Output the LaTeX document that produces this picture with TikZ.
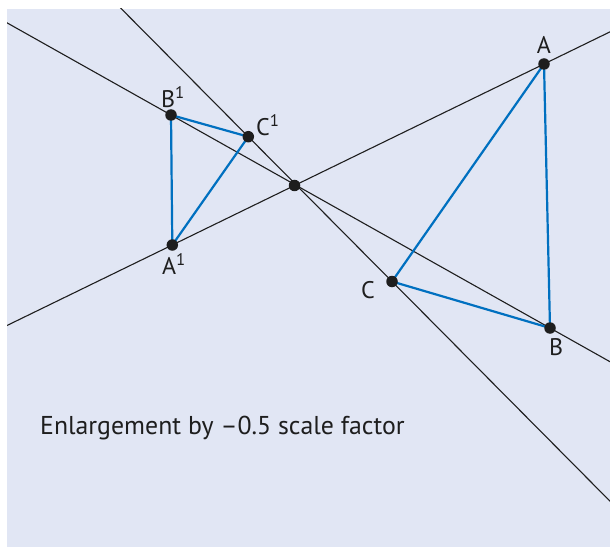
\documentclass[tikz,border=0pt]{standalone}
\usepackage{fontspec}
\setmainfont{PT Sans}
\usetikzlibrary{calc}
\definecolor{bgcol}{RGB}{225,230,244}
\definecolor{triblue}{RGB}{0,112,192}
\definecolor{inkcol}{RGB}{30,30,30}
\tikzset{
  dot/.style={circle,fill=inkcol,inner sep=0pt,minimum size=11.5pt},
  ray/.style={draw=inkcol,line width=1.1pt},
  side/.style={draw=triblue,line width=2.2pt},
  lbl/.style={font=\fontsize{24}{24}\selectfont,text=inkcol,inner sep=0pt},
}
\begin{document}
\begin{tikzpicture}[x=1pt,y=-1pt]
\useasboundingbox (0,0) rectangle (610,548);
\fill[bgcol] (7,9) rectangle (610,547);
\coordinate (O) at (294.5,185.5);
\coordinate (A) at (544,64);
\coordinate (B) at (550,328);
\coordinate (C) at (392,281.5);
\coordinate (A1) at (172.3,245);
\coordinate (B1) at (171,115);
\coordinate (C1) at (248.3,136.7);
\begin{scope}
\clip (7,9) rectangle (610,547);
\draw[ray] ($(A1)!-1!(A)$) -- ($(A1)!2!(A)$);
\draw[ray] ($(B1)!-1!(B)$) -- ($(B1)!2!(B)$);
\draw[ray] ($(C1)!-1!(C)$) -- ($(C1)!3!(C)$);
\end{scope}
\draw[side] (A) -- (B) -- (C) -- cycle;
\draw[side] (A1) -- (B1) -- (C1) -- cycle;
\foreach \p in {O,A,B,C,A1,B1,C1} \node[dot] (d\p) at (\p) {};
\node[lbl] (lA) at (544,45) {A};
\node[lbl] (lB) at (556,347) {B};
\node[lbl] (lC) at (368,290) {C};
\node[lbl,anchor=west] (lA1) at (162,264) {A\textsuperscript{1}};
\node[lbl,anchor=west] (lB1) at (161,97) {B\textsuperscript{1}};
\node[lbl,anchor=west] (lC1) at (256,125) {C\textsuperscript{1}};
\node[lbl,anchor=base west,font=\fontsize{25.8}{26}\selectfont] (cap) at (40,434) {Enlargement by \textendash0.5 scale factor};
\end{tikzpicture}
\end{document}
